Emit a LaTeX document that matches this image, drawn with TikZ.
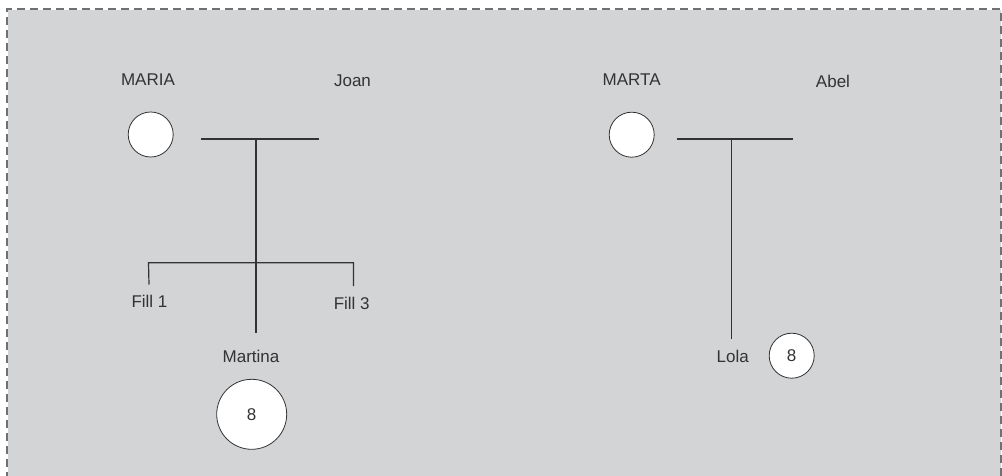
\documentclass[tikz,border=0pt]{standalone}
\usepackage{fontspec}
\setmainfont{Liberation Sans}
\definecolor{panel}{HTML}{D3D4D6}
\definecolor{frame}{HTML}{707070}
\definecolor{ink}{HTML}{333333}
\begin{document}
\begin{tikzpicture}[x=1pt,y=-1pt,
  lbl/.style={inner sep=0pt, text=ink, font=\fontsize{17}{20}\selectfont},
  person/.style={circle, draw=ink, line width=0.8pt, fill=white, minimum size=45pt, inner sep=0pt},
  bigperson/.style={person, minimum size=70pt},
  link/.style={draw=ink, line width=1.2pt}]
\useasboundingbox (0,0) rectangle (1002,476);
% panel with dashed frame
\fill[panel] (8,10) rectangle (1001,476);
\draw[frame, line width=2pt, dash pattern=on 8pt off 5pt] (7,480) -- (7,9) -- (1001,9) -- (1001,480);

% first family
\node[lbl] (maria) at (148,80) {MARIA};
\node[lbl] (joan) at (352.5,81) {Joan};
\node[person] (mariac) at (150.7,134.5) {};
\coordinate (c1l) at (201,139);
\coordinate (c1r) at (318.5,139);
\coordinate (c1m) at (256,139);
\coordinate (c1b) at (256,333);
\coordinate (k1l) at (148.5,262.7);
\coordinate (k1r) at (353.5,262.7);
\coordinate (k1ld) at (149,284.5);
\coordinate (k1rd) at (353.5,286);
\path[link] (c1l) -- (c1r);
\path[link] (c1m) -- (c1b);
\path[link] (k1ld) -- (k1l) -- (k1r) -- (k1rd);
\node[lbl] (fill1) at (149.5,301.7) {Fill 1};
\node[lbl] (fill3) at (351.7,303) {Fill 3};
\node[lbl] (martina) at (251,356) {Martina};
\node[bigperson, font=\fontsize{17}{20}\selectfont, text=ink] (martinac) at (251.7,414.3) {8};

% second family
\node[lbl] (marta) at (631.7,80) {MARTA};
\node[lbl] (abel) at (833,81) {Abel};
\node[person] (martac) at (631.7,134.7) {};
\coordinate (c2l) at (676.7,139);
\coordinate (c2r) at (793.3,139);
\coordinate (c2m) at (731.7,139);
\coordinate (c2b) at (731.7,338.5);
\path[link] (c2l) -- (c2r);
\path[link] (c2m) -- (c2b);
\node[lbl] (lola) at (732.7,356) {Lola};
\node[person, font=\fontsize{17}{20}\selectfont, text=ink] (lolac) at (791.7,355.7) {8};
\end{tikzpicture}
\end{document}
